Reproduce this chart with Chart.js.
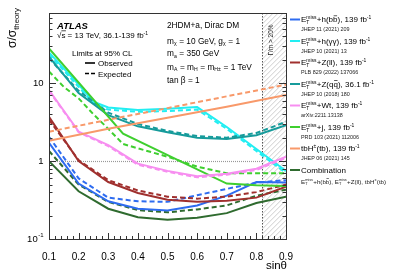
<!DOCTYPE html>
<html>
<head>
<meta charset="utf-8">
<script src="https://cdn.jsdelivr.net/npm/chart.js@4.4.1/dist/chart.umd.min.js"></script>
<style>
  html, body { margin: 0; padding: 0; background: #fff; }
  #wrap { width: 407px; height: 275px; }
</style>
</head>
<body>
<div id="wrap"><canvas id="limitChart"></canvas></div>
<script>
// sin(theta) grid, null = no reading at that point
const sinTheta = [0.1, 0.15, 0.2, 0.25, 0.3, 0.35, 0.4, 0.45, 0.5, 0.55, 0.6, 0.65, 0.7, 0.75, 0.8, 0.85, 0.9];

const hbbObs  = [1.72, null, 0.515, null, 0.305, null, 0.245, null, 0.233, null, 0.27, null, 0.36, null, 0.54, null, 0.53];
const hbbExp  = [2.06, null, 0.60, null, 0.34, null, 0.305, null, 0.30, null, 0.365, null, 0.44, null, 0.53, null, 0.57];
const hyyObs  = [25, null, 9.6, 5.8, 4.9, null, 4.55, null, 4.7, null, 4.95, null, 2.75, null, 1.43, null, 0.75];
const hyyExp  = [23.5, null, 9.0, 5.5, 4.6, null, 4.3, null, 4.4, null, 4.6, null, 2.6, null, 1.35, null, 0.7];
const zllObs  = [3.7, null, 1.0, null, 0.54, null, 0.39, null, 0.32, null, 0.30, null, 0.31, null, 0.34, null, 0.47];
const zllExp  = [3.4, null, 1.03, null, 0.57, null, 0.42, null, 0.35, null, 0.33, null, 0.35, null, 0.40, null, 0.50];
const zqqObs  = [22, null, 7.5, null, 3.9, null, 2.8, null, 2.35, null, 2.0, null, 1.92, null, 2.15, null, 2.9];
const zqqExp  = [21, null, 8.0, null, 4.2, null, 3.0, null, 2.45, null, 2.1, null, 2.0, null, 2.3, null, 3.2];
const wtObs   = [8.2, null, 2.4, null, 1.61, null, 0.93, null, 0.75, null, 0.64, null, 0.69, null, 0.80, null, 1.14];
const wtExp   = [8.0, null, 2.35, null, 1.56, null, 0.9, null, 0.73, null, 0.62, null, 0.67, null, 0.77, null, 1.1];
const jObs    = [28, null, null, null, null, 2.25, null, null, null, null, null, null, 0.515, null, 0.49, null, 0.48];
const jExp    = [14.2, 9.0, 6.4, 4.0, 2.6, 1.66, 1.46, null, 1.14, null, 0.85, null, 0.70, null, 0.70, null, 0.70];
const tbhObs  = [1.83, null, null, null, 2.6, null, null, null, 3.6, null, null, null, 5.0, null, null, null, 7.1];
const tbhExp  = [2.39, null, null, null, 3.4, null, null, null, 4.8, null, null, null, 6.8, null, null, null, 9.6];
const combObs = [1.0, null, 0.41, null, 0.245, null, 0.19, null, 0.177, null, 0.187, null, 0.215, null, 0.29, null, 0.35];
const combExp = [1.35, null, 0.5, null, 0.3, null, 0.235, null, 0.22, null, 0.24, null, 0.27, null, 0.36, null, 0.43];

const xTicks = [0.1, 0.2, 0.3, 0.4, 0.5, 0.6, 0.7, 0.8, 0.9];
const yLabelTicks = [0.1, 1, 10];
const yMinorTicks = [0.2, 0.3, 0.4, 0.5, 0.6, 0.7, 0.8, 0.9, 2, 3, 4, 5, 6, 7, 8, 9, 20, 30, 40, 50, 60, 70, 80];
const widthCut = 0.82;   // Gamma/m > 20% region starts here

const COLORS = {
  hbb: '#2e6cf0', hyy: '#22eef2', zll: '#a0302e', zqq: '#169b9b',
  wt: '#f78ef0', j: '#3fcf2f', tbh: '#f8996a', comb: '#2f6b2f'
};
const FONT = '"Liberation Sans", Arial, Helvetica, sans-serif';

function series(label, values, color, dashed) {
  return {
    label: label,
    data: sinTheta.map((s, i) => ({ x: s, y: values[i] })),
    borderColor: color,
    backgroundColor: color,
    borderWidth: 2,
    borderDash: dashed ? [5, 3] : [],
    pointRadius: 0,
    tension: 0,
    spanGaps: true,
    fill: false
  };
}

// draws text with sup/sub/overline pieces, returns end x
function rich(ctx, x, y, parts, size) {
  let cx = x;
  ctx.textBaseline = 'alphabetic';
  ctx.textAlign = 'left';
  for (const p of parts) {
    if (typeof p === 'string') {
      ctx.font = size + 'px ' + FONT;
      ctx.fillText(p, cx, y);
      cx += ctx.measureText(p).width;
    } else if (p.bar) {
      ctx.font = size + 'px ' + FONT;
      ctx.fillText(p.bar, cx, y);
      const w = ctx.measureText(p.bar).width;
      ctx.fillRect(cx + 0.6, y - size * 0.86, w - 1, Math.max(0.6, size * 0.08));
      cx += w;
    } else {
      const ss = size * 0.62;
      ctx.font = ss + 'px ' + FONT;
      let w = 0;
      if (p.sup) { ctx.fillText(p.sup, cx, y - size * 0.4); w = Math.max(w, ctx.measureText(p.sup).width); }
      if (p.sub) { ctx.fillText(p.sub, cx, y + size * 0.22); w = Math.max(w, ctx.measureText(p.sub).width); }
      cx += w + 0.3;
    }
  }
  return cx;
}

const ET = ['E', { sup: 'miss', sub: 'T' }];
const legendRows = [
  { color: COLORS.hbb, parts: [...ET, '+h(b', { bar: 'b' }, '), 139 fb', { sup: '-1' }], ref: 'JHEP 11 (2021) 209' },
  { color: COLORS.hyy, parts: [...ET, '+h(\u03b3\u03b3), 139 fb', { sup: '-1' }], ref: 'JHEP 10 (2021) 13' },
  { color: COLORS.zll, parts: [...ET, '+Z(ll), 139 fb', { sup: '-1' }], ref: 'PLB 829 (2022) 137066' },
  { color: COLORS.zqq, parts: [...ET, '+Z(q', { bar: 'q' }, '), 36.1 fb', { sup: '-1' }], ref: 'JHEP 10 (2018) 180' },
  { color: COLORS.wt, parts: [...ET, '+Wt, 139 fb', { sup: '-1' }], ref: 'arXiv:2211.13138' },
  { color: COLORS.j, parts: [...ET, '+j, 139 fb', { sup: '-1' }], ref: 'PRD 103 (2021) 112006' },
  { color: COLORS.tbh, parts: ['tbH', { sup: '\u00b1' }, '(tb), 139 fb', { sup: '-1' }], ref: 'JHEP 06 (2021) 145' },
  { color: COLORS.comb, parts: ['Combination'], ref: null }
];

const decorations = {
  id: 'decorations',
  beforeDatasetsDraw(chart) {
    const { ctx, chartArea: a, scales: { x, y } } = chart;
    const xc = x.getPixelForValue(widthCut);
    ctx.save();
    // hatched region
    ctx.beginPath();
    ctx.rect(xc, a.top, a.right - xc, a.bottom - a.top);
    ctx.clip();
    ctx.strokeStyle = '#b8b8b8';
    ctx.lineWidth = 0.7;
    for (let k = -300; k < 300; k += 5) {
      ctx.beginPath();
      ctx.moveTo(xc + k, a.bottom);
      ctx.lineTo(xc + k + (a.bottom - a.top), a.top);
      ctx.stroke();
    }
    ctx.restore();

    ctx.save();
    // dotted line at 1
    ctx.strokeStyle = '#999';
    ctx.lineWidth = 1.2;
    ctx.setLineDash([1, 1]);
    const y1 = Math.round(y.getPixelForValue(1)) + 0.5;
    ctx.beginPath();
    ctx.moveTo(a.left, y1);
    ctx.lineTo(xc, y1);
    ctx.stroke();
    // vertical dotted line
    ctx.strokeStyle = '#555';
    ctx.lineWidth = 1;
    ctx.setLineDash([1.5, 1.5]);
    ctx.beginPath();
    ctx.moveTo(Math.round(xc) + 0.5, a.top);
    ctx.lineTo(Math.round(xc) + 0.5, a.bottom);
    ctx.stroke();
    ctx.restore();
  },
  afterDatasetsDraw(chart) {
    const { ctx, chartArea: a, scales: { x, y } } = chart;
    const xc = x.getPixelForValue(widthCut);
    ctx.save();
    ctx.fillStyle = '#000';

    // frame
    ctx.strokeStyle = '#333';
    ctx.lineWidth = 1;
    ctx.setLineDash([]);
    ctx.strokeRect(Math.round(a.left) + 0.5, Math.round(a.top) + 0.5, Math.round(a.right - a.left), Math.round(a.bottom - a.top));

    // ticks
    ctx.beginPath();
    for (const v of yLabelTicks) {
      const py = Math.round(y.getPixelForValue(v)) + 0.5;
      ctx.moveTo(a.left, py); ctx.lineTo(a.left + 7, py);
      ctx.moveTo(a.right, py); ctx.lineTo(a.right - 7, py);
    }
    for (const v of yMinorTicks) {
      const py = Math.round(y.getPixelForValue(v)) + 0.5;
      ctx.moveTo(a.left, py); ctx.lineTo(a.left + 3.5, py);
      ctx.moveTo(a.right, py); ctx.lineTo(a.right - 3.5, py);
    }
    for (let k = 0; k <= 40; k++) {
      const v = 0.1 + k * 0.02;
      const px = Math.round(x.getPixelForValue(v)) + 0.5;
      const len = k % 5 === 0 ? 6 : 3;
      ctx.moveTo(px, a.bottom); ctx.lineTo(px, a.bottom - len);
    }
    ctx.stroke();

    // y tick labels
    ctx.textBaseline = 'middle';
    ctx.textAlign = 'right';
    ctx.font = '9.5px ' + FONT;
    for (const v of yLabelTicks) {
      const py = y.getPixelForValue(v);
      if (v < 1) {
        ctx.font = '6px ' + FONT;
        const wSup = ctx.measureText('-1').width;
        ctx.fillText('-1', 43.5, py - 3.5);
        ctx.font = '9.5px ' + FONT;
        ctx.fillText('10', 43.5 - wSup - 0.5, py + 0.5);
      } else {
        ctx.fillText(String(v), 43.5, py + 0.5);
      }
    }

    // axis titles
    ctx.textAlign = 'right';
    ctx.textBaseline = 'alphabetic';
    ctx.font = '11.5px ' + FONT;
    ctx.fillText('sin\u03b8', a.right + 1, 269);

    ctx.save();
    ctx.translate(16, 48);
    ctx.rotate(-Math.PI / 2);
    ctx.font = '12px ' + FONT;
    ctx.textAlign = 'left';
    ctx.fillText('\u03c3/\u03c3', 0, 0);
    const w0 = ctx.measureText('\u03c3/\u03c3').width;
    ctx.font = '7.8px ' + FONT;
    ctx.fillText('theory', w0, 3);
    ctx.restore();

    // Gamma/m label in hatch
    ctx.save();
    ctx.translate(xc + 8.5, 40);
    ctx.rotate(-Math.PI / 2);
    ctx.textAlign = 'center';
    ctx.textBaseline = 'middle';
    ctx.font = '6.5px ' + FONT;
    ctx.fillStyle = '#222';
    ctx.fillText('\u0393/m > 20%', 0, 0);
    ctx.restore();

    // ATLAS label block
    ctx.fillStyle = '#000';
    ctx.textAlign = 'left';
    ctx.font = 'italic bold 9.5px ' + FONT;
    ctx.fillText('ATLAS', 57, 28.5);
    let ex = rich(ctx, 57, 38, ['\u221a'], 8);
    const sx = ex;
    ex = rich(ctx, ex, 38, ['s = 13 TeV, 36.1-139 fb', { sup: '-1' }], 8);
    ctx.fillRect(sx, 30.5, 4.5, 0.7);
    rich(ctx, 72, 56, ['Limits at 95% CL'], 8);
    ctx.strokeStyle = '#000';
    ctx.lineWidth = 1.6;
    ctx.beginPath(); ctx.moveTo(85, 63); ctx.lineTo(95, 63); ctx.stroke();
    ctx.setLineDash([4, 2]);
    ctx.beginPath(); ctx.moveTo(85, 73.5); ctx.lineTo(95, 73.5); ctx.stroke();
    ctx.setLineDash([]);
    rich(ctx, 98, 66, ['Observed'], 8);
    rich(ctx, 98, 76.5, ['Expected'], 8);

    // model block
    rich(ctx, 167, 28, ['2HDM+a, Dirac DM'], 8.3);
    rich(ctx, 167, 43.5, ['m', { sub: '\u03c7' }, ' = 10 GeV, g', { sub: '\u03c7' }, ' = 1'], 8.3);
    rich(ctx, 167, 56, ['m', { sub: 'a' }, ' = 350 GeV'], 8.3);
    rich(ctx, 167, 69.5, ['m', { sub: 'A' }, ' = m', { sub: 'H' }, ' = m', { sub: 'H\u00b1' }, ' = 1 TeV'], 8.3);
    rich(ctx, 167, 83, ['tan \u03b2 = 1'], 8.3);

    // legend on the right
    legendRows.forEach((row, i) => {
      const cy = 19.5 + i * 21.5;
      ctx.strokeStyle = row.color;
      ctx.lineWidth = 2;
      ctx.beginPath(); ctx.moveTo(290, cy); ctx.lineTo(300, cy); ctx.stroke();
      ctx.fillStyle = '#000';
      rich(ctx, 301, cy + 2.9, row.parts, 8);
      ctx.fillStyle = '#222';
      if (row.ref) {
        rich(ctx, 301, cy + 11.5, [row.ref], 5.4);
      } else {
        rich(ctx, 301, cy + 13.5, [...ET, '+h(b', { bar: 'b' }, '), ', ...ET, '+Z(ll), tbH', { sup: '\u00b1' }, '(tb)'], 6.2);
      }
    });
    ctx.restore();
  }
};

const ctx = document.getElementById('limitChart').getContext('2d');
const limitChart = new Chart(ctx, {
  type: 'line',
  data: {
    datasets: [
      series('tbH obs', tbhObs, COLORS.tbh, false),
      series('tbH exp', tbhExp, COLORS.tbh, true),
      series('Wt obs', wtObs, COLORS.wt, false),
      series('Wt exp', wtExp, COLORS.wt, true),
      series('j obs', jObs, COLORS.j, false),
      series('j exp', jExp, COLORS.j, true),
      series('Zqq obs', zqqObs, COLORS.zqq, false),
      series('Zqq exp', zqqExp, COLORS.zqq, true),
      series('hyy obs', hyyObs, COLORS.hyy, false),
      series('hyy exp', hyyExp, COLORS.hyy, true),
      series('Zll obs', zllObs, COLORS.zll, false),
      series('Zll exp', zllExp, COLORS.zll, true),
      series('hbb obs', hbbObs, COLORS.hbb, false),
      series('hbb exp', hbbExp, COLORS.hbb, true),
      series('Comb obs', combObs, COLORS.comb, false),
      series('Comb exp', combExp, COLORS.comb, true)
    ]
  },
  options: {
    responsive: true,
    maintainAspectRatio: false,
    animation: false,
    layout: { padding: { top: 13, right: 121, left: 0, bottom: 0 } },
    scales: {
      x: {
        type: 'linear',
        min: 0.1,
        max: 0.9,
        grid: { display: false },
        border: { display: false },
        afterBuildTicks: function (scale) {
          scale.ticks = xTicks.map(v => ({ value: v }));
        },
        ticks: {
          color: '#000',
          font: { family: FONT, size: 10 },
          padding: 4,
          maxRotation: 0,
          autoSkip: false,
          callback: function (value) { return value.toFixed(1); }
        },
        afterFit: function (scale) { scale.height = 36; }
      },
      y: {
        type: 'logarithmic',
        min: 0.1,
        max: 80,
        grid: { display: false },
        border: { display: false },
        ticks: { display: false },
        afterFit: function (scale) { scale.width = 49; }
      }
    },
    plugins: {
      legend: { display: false },
      tooltip: { enabled: false }
    }
  },
  plugins: [decorations]
});
</script>
</body>
</html>
